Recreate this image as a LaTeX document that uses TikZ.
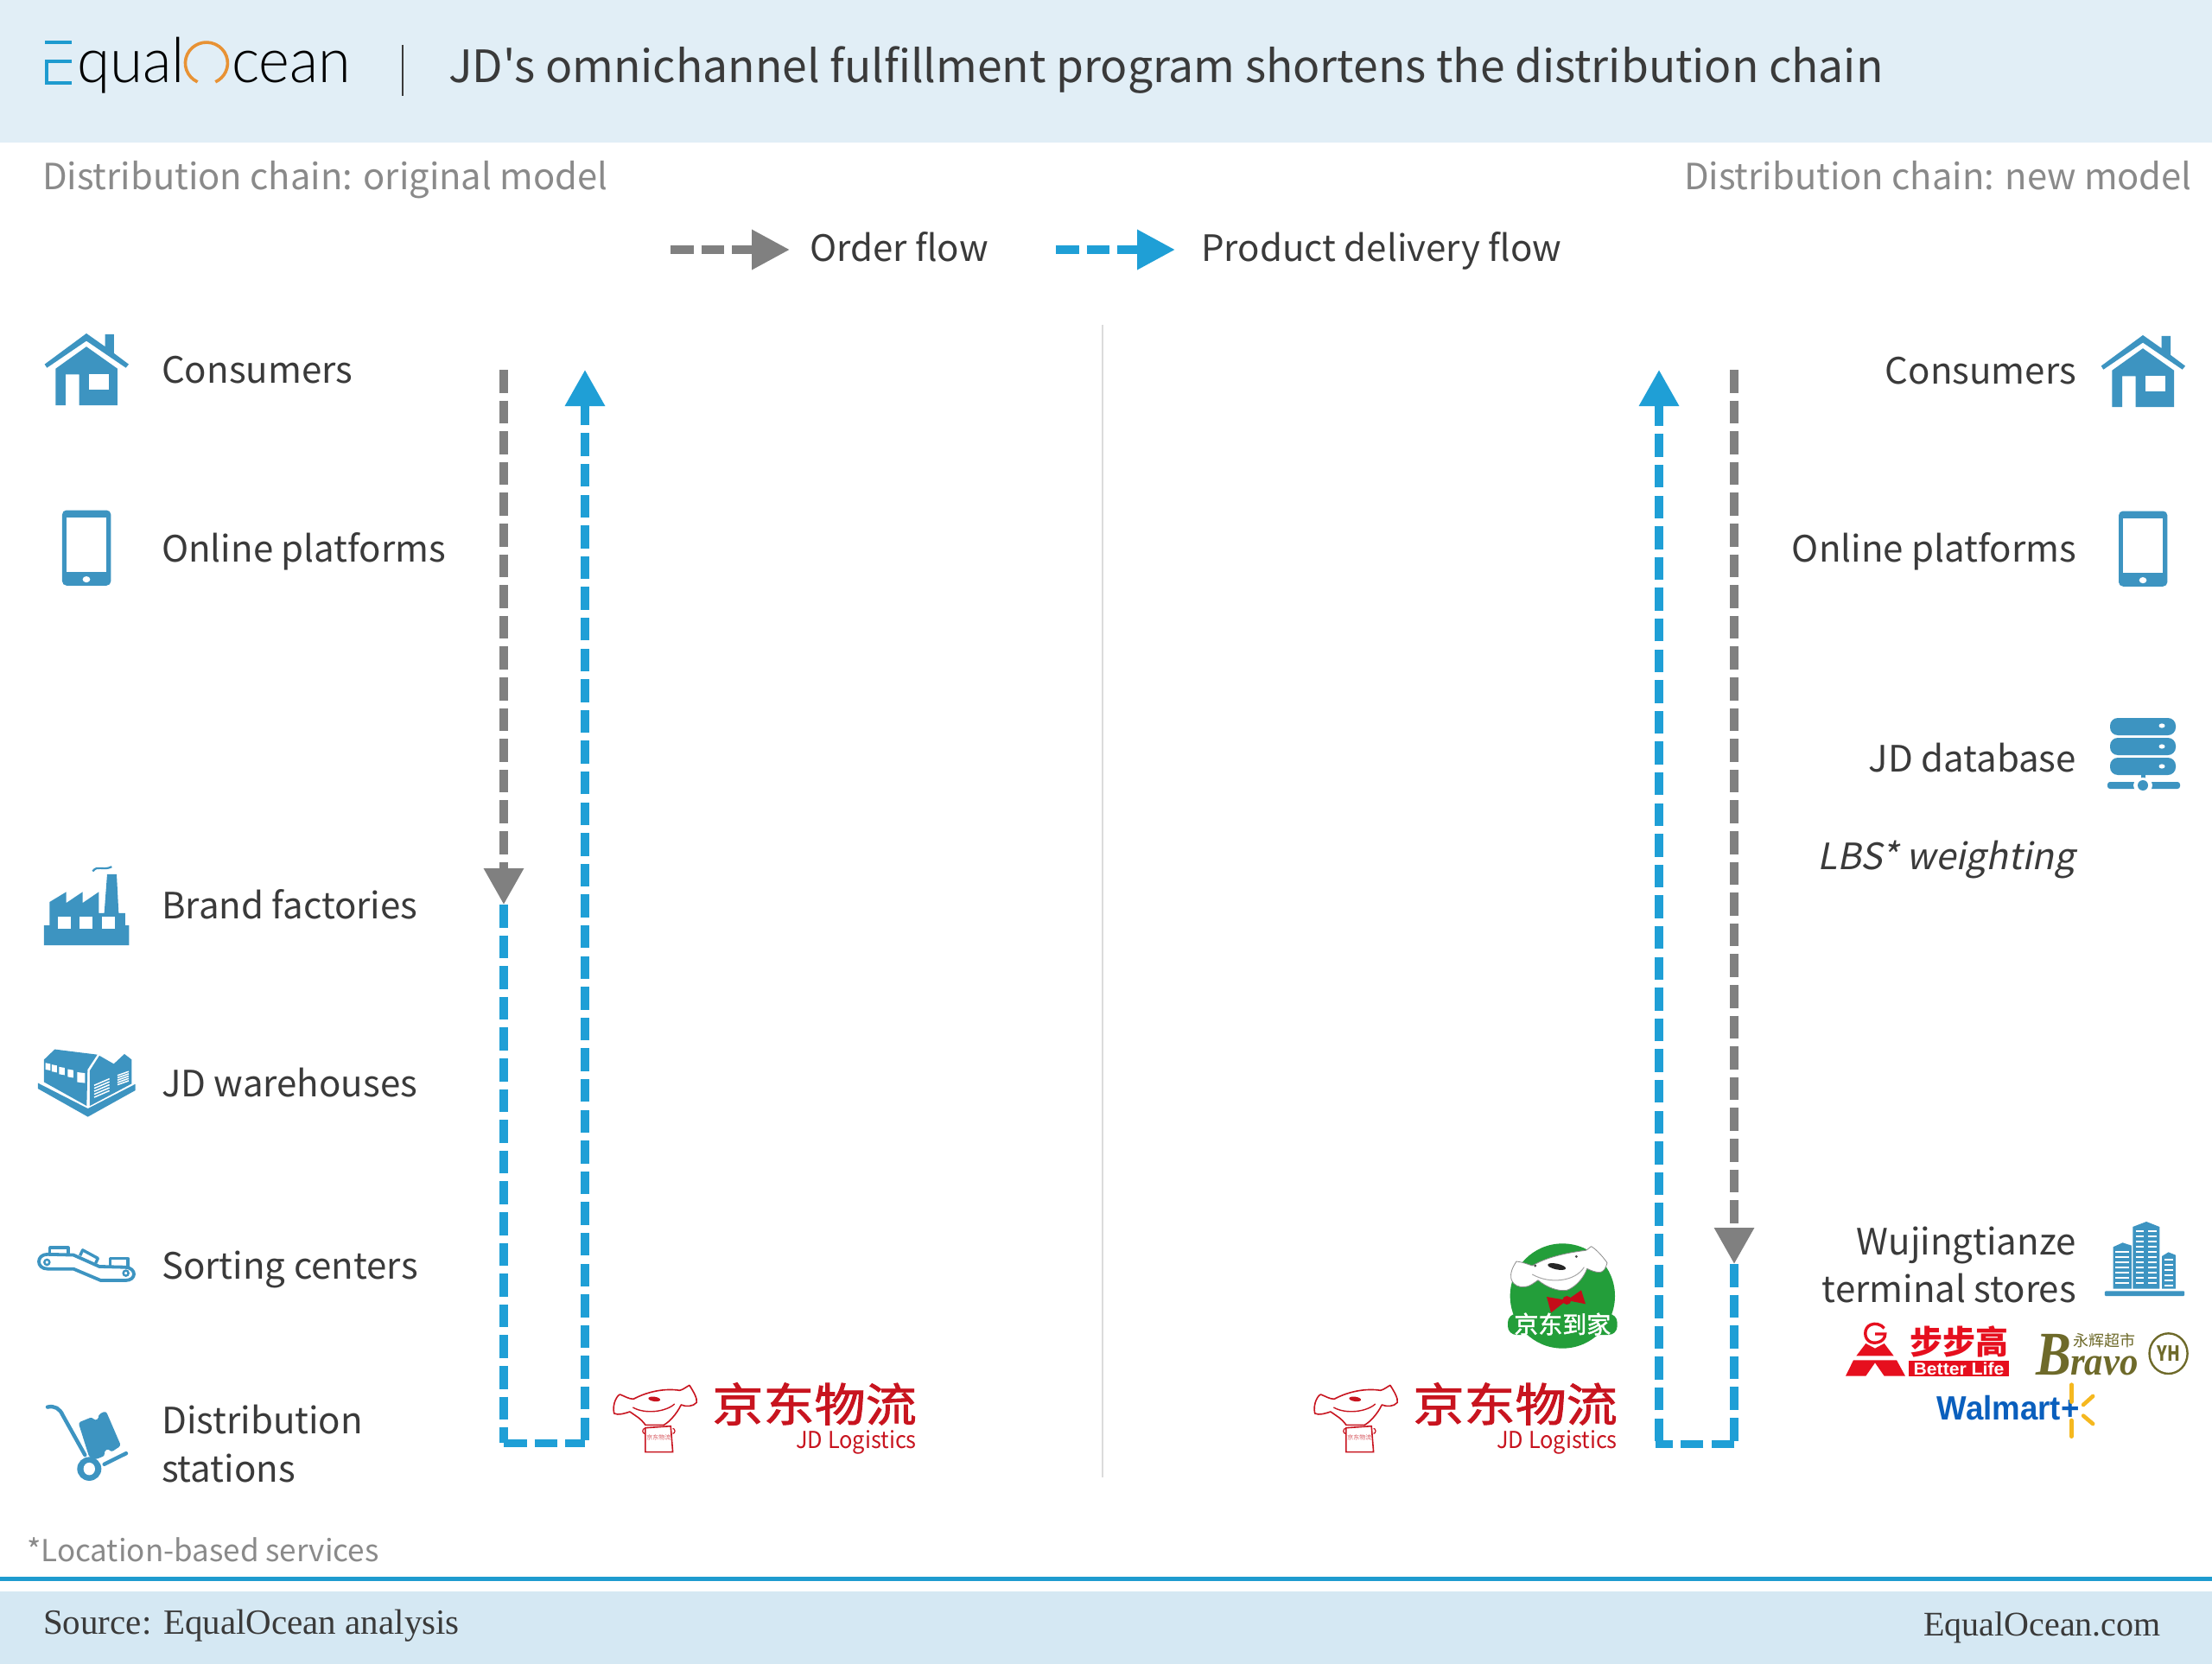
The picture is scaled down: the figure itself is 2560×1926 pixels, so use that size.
\documentclass[tikz,border=0pt]{standalone}
\usepackage{fontspec}
\usetikzlibrary{arrows.meta}
\setmainfont{Noto Sans CJK SC}[Ligatures=NoCommon]
\newfontfamily\plainf{Noto Sans CJK SC}
\newfontfamily\itf{Noto Sans CJK SC}[FakeSlant=0.2]
\newfontfamily\lgfont{Lato Light}
\newfontfamily\srcfont{Liberation Serif}
\newfontfamily\cjkf{Noto Sans CJK SC}
\newfontfamily\cjkm{Noto Sans CJK SC}[FakeBold=1.6]
\newfontfamily\arialf{Liberation Sans}
\definecolor{hdr}{HTML}{E1EEF6}
\definecolor{ftr}{HTML}{D5E8F3}
\definecolor{rule}{HTML}{1E9BCF}
\definecolor{ico}{HTML}{3D94C1}
\definecolor{ablue}{HTML}{1F9FD6}
\definecolor{agrey}{HTML}{808080}
\definecolor{txt}{HTML}{3A3A3A}
\definecolor{sub}{HTML}{8A8A8A}
\definecolor{jdred}{HTML}{C8141F}
\definecolor{gred}{HTML}{E60F1E}
\definecolor{dj}{HTML}{239E3A}
\definecolor{olive}{HTML}{6E6A2A}
\definecolor{wm}{HTML}{0A5FBD}
\definecolor{spark}{HTML}{F5B81F}
\definecolor{logoor}{HTML}{E89234}
\tikzset{
  lab/.style={font=\plainf\fontsize{42}{46}\selectfont,text=txt,inner sep=0pt,text height=31pt,text depth=0pt},
  llab/.style={lab,anchor=west},
  rlab/.style={lab,anchor=east},
  subt/.style={font=\plainf\fontsize{41.7}{46}\selectfont,text=sub,inner sep=0pt,text height=31pt,text depth=0pt},
  flowgrey/.style={draw=agrey,line width=9.5pt,dash pattern=on 26.5pt off 9.1pt},
  flowblue/.style={draw=ablue,line width=9.5pt,dash pattern=on 26.5pt off 9.1pt},
  tipg/.style={-{Triangle[length=42pt,width=44pt,fill=agrey]}},
  tipb/.style={-{Triangle[length=42pt,width=44pt,fill=ablue]}},
  z1/.style={x=0.33333pt,y=-0.5102pt},
  z2/.style={x=0.33333pt,y=-0.38265pt},
  z3/.style={x=0.68868pt,y=-0.33333pt},
  z6/.style={x=0.34483pt,y=-0.33333pt},
  zq/.style={x=0.33333pt,y=-0.33333pt},
}
\newcommand{\houseicon}[2]{%
\begin{scope}[shift={(#1 pt,-#2 pt)},z1]
  \fill[ico] (300,90)--(365,120)--(365,92)--(396,92)--(396,135)--(447,160)--(437,168)--(300,107)--(163,168)--(155,160)--cycle;
  \fill[ico] (300,120)--(408,170)--(408,253)--(275,253)--(275,183)--(228,183)--(228,253)--(193,253)--(193,170)--cycle;
  \fill[white] (310,183) rectangle (378,218);
\end{scope}}
\newcommand{\tableticon}[2]{%
\begin{scope}[shift={(#1 pt,-#2 pt)},z1]
  \fill[ico,rounded corners=5pt] (216,491) rectangle (385,662);
  \fill[white] (232,507) rectangle (368,632);
  \fill[white] (300,648) ellipse [x radius=13,y radius=7];
\end{scope}}
\newcommand{\jdlogo}[1]{%
\begin{scope}[shift={(#1 pt,0pt)}]
  \node[inner sep=0pt,anchor=east,text=jdred,font=\cjkm\fontsize{53}{53}\selectfont,xscale=1.115] (jdcn#1) at (1061pt,-1625pt) {京东物流};
  \node[inner sep=0pt,anchor=east,text=jdred,font=\plainf\fontsize{27}{30}\selectfont,xscale=0.94] (jden#1) at (1061pt,-1669pt) {JD Logistics};
  \begin{scope}[shift={(540pt,-1560pt)},z6]
    \draw[jdred,line width=1.6pt,line join=round] (495,228) .. controls (488,195) and (505,165) .. (515,162) .. controls (530,168) and (545,178) .. (560,178) .. controls (610,150) and (670,140) .. (715,148) .. controls (728,145) and (738,135) .. (748,130) .. controls (760,150) and (775,175) .. (772,190) .. controls (760,205) and (735,205) .. (720,198) .. controls (705,230) and (680,258) .. (662,268) -- (600,268) .. controls (585,245) and (565,235) .. (548,222) .. controls (530,228) and (510,235) .. (495,228) -- cycle;
    \draw[jdred,line width=1.4pt] (558,207) .. controls (600,232) and (670,222) .. (698,195);
    \fill[jdred,rotate around={-8:(630,178)}] (630,178) ellipse [x radius=20,y radius=8];
    \draw[jdred,line width=1.6pt] (600,278) -- (685,272) -- (692,362) -- (600,362) -- cycle;
    \draw[jdred,line width=1.2pt] (598,298) arc[x radius=7,y radius=9,start angle=90,end angle=270];
    \draw[jdred,line width=1.2pt] (692,298) arc[x radius=7,y radius=9,start angle=90,end angle=-90];
    \node[inner sep=0pt,text=jdred!70,font=\cjkf\fontsize{7}{7}\selectfont] (jdbox#1) at (645,311) {京东物流};
  \end{scope}
\end{scope}}
\begin{document}
\begin{tikzpicture}[x=1pt,y=-1pt]
\useasboundingbox (0,0) rectangle (2560,1926);
\fill[white] (0,0) rectangle (2560,1926);
% header and footer
\fill[hdr] (0,0) rectangle (2560,165);
\fill[rule] (0,1825) rectangle (2560,1830);
\fill[ftr] (0,1842) rectangle (2560,1926);
% logo
\fill[rule] (52,47.5) rectangle (83,51.5);
\fill[rule] (52,69.5) rectangle (83,73.5);
\fill[rule] (52,94) rectangle (83,98);
\fill[rule] (52,69.5) rectangle (56,98);
\node[inner sep=0pt,anchor=base west,text=black,font=\lgfont\fontsize{72}{72}\selectfont,xscale=0.96] (lgq) at (89,96) {qual};
\node[inner sep=0pt,anchor=base west,text=black,font=\lgfont\fontsize{72}{72}\selectfont,xscale=0.95] (lgc) at (268,96) {cean};
\draw[draw=logoor,line width=3.6pt] (228.6,94.8) arc[x radius=24.5,y radius=24,start angle=115,end angle=425];
\draw[txt,line width=2.2pt] (466,52) -- (466,111);
\node[inner sep=0pt,anchor=west,text=txt,text height=37pt,text depth=0pt,font=\plainf\fontsize{51.6}{60}\selectfont] (title) at (519,77) {JD's omnichannel fulfillment program shortens the distribution chain};
% sub titles
\node[subt,anchor=west] (subl) at (49,204) {Distribution chain: original model};
\node[subt,anchor=east] (subr) at (2537,204) {Distribution chain: new model};
% legend
\coordinate (lga) at (776,289); \coordinate (lgb) at (914,289);
\coordinate (lgc1) at (1222,289); \coordinate (lgd) at (1360,289);
\draw[draw=agrey,line width=10pt,dash pattern=on 26.5pt off 9pt,-{Triangle[length=44pt,width=44pt,fill=agrey]}] (lga) -- (lgb);
\draw[draw=ablue,line width=10pt,dash pattern=on 26.5pt off 9pt,-{Triangle[length=44pt,width=44pt,fill=ablue]}] (lgc1) -- (lgd);
\node[llab] (lo) at (937,287) {Order flow};
\node[llab] (lp) at (1390,287) {Product delivery flow};
% divider
\coordinate (dva) at (1276,376); \coordinate (dvb) at (1276,1710);
\draw[draw=black!14,line width=1.6pt] (dva) -- (dvb);
% left arrows
\coordinate (la) at (583,428); \coordinate (lb) at (583,1047);
\coordinate (lc) at (583,1670); \coordinate (ld) at (583.0,1670.5); \coordinate (le) at (677,1670.5);
\coordinate (lf) at (677,1667); \coordinate (lg) at (677,428);
\draw[flowgrey,tipg] (la) -- (lb);
\draw[flowblue] (lb) -- (lc);
\draw[flowblue] (ld) -- (le);
\draw[flowblue,tipb] (lf) -- (lg);
% right arrows
\coordinate (ra) at (2007,428); \coordinate (rb) at (2007,1463);
\coordinate (rc) at (2007,1671); \coordinate (rd) at (2007,1671.5); \coordinate (re) at (1916,1671.5);
\coordinate (rf) at (1920,1668); \coordinate (rg) at (1920,428);
\draw[flowgrey,tipg] (ra) -- (rb);
\draw[flowblue] (rb) -- (rc);
\draw[flowblue] (rd) -- (re);
\draw[flowblue,tipb] (rf) -- (rg);
% left labels
\node[llab] (l1) at (187,428) {Consumers};
\node[llab] (l2) at (187,635) {Online platforms};
\node[llab] (l3) at (187,1048) {Brand factories};
\node[llab] (l4) at (187,1254) {JD warehouses};
\node[llab] (l5) at (187,1465) {Sorting centers};
\node[llab] (l6) at (187,1644) {Distribution};
\node[llab] (l7) at (187,1700) {stations};
% right labels
\node[rlab] (r1) at (2403,429) {Consumers};
\node[rlab] (r2) at (2403,635) {Online platforms};
\node[rlab] (r3) at (2403,878) {JD database};
\node[rlab,font=\itf\fontsize{42}{46}\selectfont] (r4) at (2401,991) {LBS* weighting};
\node[rlab] (r5) at (2403,1437) {Wujingtianze};
\node[rlab] (r6) at (2403,1492) {terminal stores};
% footer texts
\node[inner sep=0pt,anchor=west,text=sub,text height=26pt,text depth=0pt,font=\plainf\fontsize{35}{40}\selectfont] (fn) at (31,1794) {*Location-based services};
\node[inner sep=0pt,anchor=west,text=txt,text height=27pt,text depth=0pt,font=\srcfont\fontsize{41}{44}\selectfont] (src) at (50,1878) {Source: EqualOcean analysis};
\node[inner sep=0pt,anchor=east,text=txt,text height=27pt,text depth=0pt,font=\srcfont\fontsize{40}{44}\selectfont] (eq) at (2501,1880) {EqualOcean.com};
% icons
\houseicon{0}{340}
\houseicon{2380}{342}
\tableticon{0}{340}
\tableticon{2380}{341}
% factory
\begin{scope}[shift={(0pt,-340pt)},z1]
  \fill[ico] (153,1433) -- (172,1433) -- (172,1380) -- (230,1357) -- (230,1382) -- (287,1357) -- (287,1382) -- (343,1357) -- (343,1405) -- (362,1405) -- (372,1317) -- (405,1317) -- (412,1405) -- (435,1405) -- (435,1433) -- (448,1433) -- (448,1478) -- (153,1478) -- cycle;
  \fill[white] (200,1413) rectangle (245,1440);
  \fill[white] (277,1413) rectangle (322,1440);
  \fill[white] (355,1413) rectangle (400,1440);
  \draw[ico,line width=2.2pt] (322,1310) .. controls (340,1295) and (355,1310) .. (388,1300);
\end{scope}
% warehouse
\begin{scope}[shift={(0pt,-1130pt)},z2]
  \fill[ico] (132,323) -- (305,400) -- (470,326) -- (470,345) -- (305,425) -- (132,340) -- cycle;
  \fill[ico] (153,252) -- (190,221) -- (338,237) -- (304,282) -- (301,392) -- (153,320) -- cycle;
  \fill[ico] (312,285) -- (345,240) -- (395,265) -- (432,235) -- (457,252) -- (457,325) -- (312,392) -- cycle;
  \foreach \a/\b/\c/\d in {158/175/262/282,180/198/267/288,205/225/274/296,235/255/281/304,268/295/290/320}
    \fill[white] (\a,\c) -- (\b,\c+3) -- (\b,\d+3) -- (\a,\d) -- cycle;
  \foreach \k in {0,1,2,3,4}{
    \draw[white,line width=1.5pt] (327,330+\k*9) -- (380,310+\k*9);
    \draw[white,line width=1.5pt] (408,300+\k*7) -- (447,288+\k*7);
  }
\end{scope}
% conveyor
\begin{scope}[shift={(0pt,-1130pt)},z2]
  \draw[ico,line width=3.8pt,line join=round] (165,841) -- (255,843) -- (345,878) -- (435,880) .. controls (475,882) and (475,920) .. (435,920) -- (350,920) -- (255,885) -- (165,885) .. controls (125,885) and (125,841) .. (165,841) -- cycle;
  \draw[ico,line width=2.4pt] (163,865) ellipse [x radius=9,y radius=8];
  \draw[ico,line width=2.4pt] (437,898) ellipse [x radius=9,y radius=8];
  \draw[ico,line width=3.4pt,line join=round] (173,840) -- (173,821) -- (237,821) -- (237,842);
  \draw[ico,line width=3.4pt,line join=round] (278,845) -- (287,828) -- (340,853) -- (332,868);
  \draw[ico,line width=3.4pt,line join=round] (382,878) -- (382,854) -- (444,854) -- (444,880);
\end{scope}
% hand truck
\begin{scope}[shift={(0pt,-1130pt)},z2]
  \draw[ico,line width=4.4pt,line cap=round] (165,1303) .. controls (190,1298) and (208,1308) .. (218,1328) -- (295,1448);
  \fill[ico,rounded corners=3pt] (272,1350) -- (320,1333) -- (330,1345) -- (345,1335) -- (342,1325) -- (368,1315) -- (420,1420) -- (385,1440) -- (378,1428) -- (360,1438) -- (365,1450) -- (330,1462) -- (310,1455) -- cycle;
  \fill[ico] (310,1490) ellipse [x radius=42,y radius=36];
  \fill[white] (310,1490) ellipse [x radius=20,y radius=19];
  \draw[ico,line width=4.4pt,line cap=round] (362,1476) -- (438,1443);
\end{scope}
% database
\foreach \t/\b/\m in {831/851/840,854/874/864,877/897/887}{
  \fill[ico,rounded corners=9pt] (2442,\t) rectangle (2518,\b);
  \fill[white] (2502,\m) ellipse [x radius=3.5,y radius=2.6];
}
\fill[ico] (2477.5,897) rectangle (2482.5,906);
\fill[ico,rounded corners=3pt] (2439,905) rectangle (2523,913);
\fill[white] (2480,909) ellipse [x radius=11,y radius=9];
\fill[ico] (2480,909) circle (6);
% terminal stores building
\begin{scope}[shift={(1480pt,-1380pt)},z3]
  \fill[ico] (1435,120) -- (1458,102) -- (1480,120) -- (1480,335) -- (1435,335) -- cycle;
  \fill[ico] (1402,190) -- (1418,175) -- (1433,185) -- (1433,335) -- (1402,335) -- cycle;
  \fill[ico] (1484,222) -- (1495,208) -- (1507,218) -- (1507,335) -- (1484,335) -- cycle;
  \fill[ico,rounded corners=1pt] (1388,343) rectangle (1522,360);
  \foreach \k in {0,1,...,10}{
    \fill[white] (1440,132+\k*18) rectangle (1453,139+\k*18);
    \fill[white] (1461,132+\k*18) rectangle (1475,139+\k*18);
  }
  \foreach \k in {0,1,...,6}{
    \fill[white] (1406,205+\k*18) rectangle (1429,211+\k*18);
  }
  \foreach \k in {0,1,...,5}{
    \fill[white] (1488,230+\k*18) rectangle (1503,236+\k*18);
  }
\end{scope}
% JD logistics logos
\jdlogo{0}
\jdlogo{811}
% JD Daojia logo
\begin{scope}[shift={(1730pt,-1430pt)},zq]
  \fill[dj] (235,210) circle (182);
  \fill[dj,rounded corners=10pt] (45,272) rectangle (425,345);
  \fill[white,draw=black!45,line width=0.8pt,line join=round] (75,90) .. controls (95,92) and (115,100) .. (130,105) .. controls (180,75) and (250,60) .. (315,52) .. controls (322,50) and (330,40) .. (335,38) .. controls (355,50) and (380,80) .. (390,95) .. controls (385,115) and (378,125) .. (365,128) .. controls (350,128) and (335,122) .. (320,115) .. controls (310,145) and (280,180) .. (250,190) .. controls (220,195) and (180,180) .. (150,155) .. controls (135,165) and (120,178) .. (105,178) .. controls (85,182) and (65,172) .. (58,155) .. controls (50,130) and (65,105) .. (75,90) -- cycle;
  \fill[black!85,rotate around={-12:(215,108)}] (215,108) ellipse [x radius=32,y radius=10];
  \fill[black!70] (140,105) circle (5);
  \fill[black!70] (283,73) circle (5);
  \draw[black!35,line width=1pt] (130,135) .. controls (190,170) and (280,160) .. (310,110);
  \fill[gred!85!black] (250,225) -- (180,213) -- (195,268) -- cycle;
  \fill[gred!85!black] (250,225) -- (300,190) -- (315,238) -- cycle;
  \fill[gred!85!black] (250,225) ellipse [x radius=15,y radius=15];
  \node[inner sep=0pt,text=white,font=\cjkm\fontsize{28}{28}\selectfont] (djt) at (235,308) {京东到家};
\end{scope}
% Better Life logo
\begin{scope}[shift={(2120pt,-1520pt)},zq]
  \fill[gred] (85,148) -- (118,105) -- (150,122) -- (182,105) -- (215,148) -- cycle;
  \fill[gred] (75,163) -- (225,163) -- (255,218) -- (182,218) -- (150,172) -- (118,218) -- (48,218) -- cycle;
  \draw[gred,line width=3.4pt] (182,52) .. controls (170,38) and (150,33) .. (135,40) .. controls (110,50) and (110,90) .. (135,100) .. controls (150,107) and (185,100) .. (185,72) -- (150,72);
  \fill[gred] (268,165) rectangle (615,218);
  \node[inner sep=0pt,text=white,font=\arialf\bfseries\fontsize{20}{20}\selectfont,xscale=1.06] (bl) at (441,192) {Better Life};
  \node[inner sep=0pt,text=gred,font=\cjkf\bfseries\fontsize{38}{38}\selectfont] (bbg) at (442,98) {步步高};
\end{scope}
% Bravo logo
\begin{scope}[shift={(1480pt,-1380pt)},z3]
  \node[inner sep=0pt,anchor=base west,text=olive,font=\srcfont\bfseries\itshape\fontsize{72}{72}\selectfont,xscale=0.85] (brb) at (1272,635) {B};
  \node[inner sep=0pt,anchor=base west,text=olive,font=\srcfont\bfseries\itshape\fontsize{46}{46}\selectfont,xscale=0.93] (brv) at (1330,635) {ravo};
  \node[inner sep=0pt,text=olive,font=\cjkf\fontsize{18}{18}\selectfont] (yh) at (1387,515) {永辉超市};
  \draw[olive,line width=2.4pt] (1495,560) ellipse [x radius=32,y radius=70];
  \node[inner sep=0pt,text=olive,font=\cjkf\bfseries\fontsize{24}{24}\selectfont,xscale=0.8] (yhm) at (1495,560) {YH};
\end{scope}
% Walmart+ logo
\begin{scope}[shift={(1480pt,-1380pt)},z3]
  \node[inner sep=0pt,anchor=west,text=wm,font=\arialf\bfseries\fontsize{39}{39}\selectfont,xscale=0.94] (wmt) at (1106,750) {Walmart+};
  \draw[spark,line width=4.6pt,line cap=round] (1332,668) -- (1332,728);
  \draw[spark,line width=4.6pt,line cap=round] (1332,792) -- (1332,848);
  \draw[spark,line width=4.6pt,line cap=round] (1352,738) -- (1368,708);
  \draw[spark,line width=4.6pt,line cap=round] (1352,776) -- (1368,804);
\end{scope}
\end{tikzpicture}
\end{document}
